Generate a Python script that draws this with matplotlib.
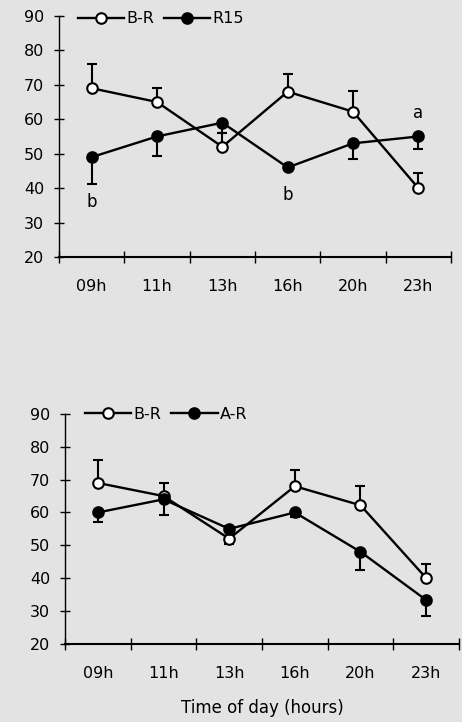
import matplotlib
matplotlib.use("Agg")
import matplotlib.pyplot as plt

plt.rcParams["font.family"] = ["DejaVu Sans"]

BG = "#e3e3e3"

hours = ["09h", "11h", "13h", "16h", "20h", "23h"]

# baseline (B-R), same in both panels
br_mean = [69, 65, 52, 68, 62.2, 40]
br_err_up = [7, 4, 4, 5, 6, 4.3]

# top panel: R15
r15_mean = [49, 55, 59, 46, 53, 55]
r15_err_down = [7.7, 5.7, 3, 0.5, 4.6, 3.6]

# bottom panel: A-R
ar_mean = [60, 64, 55, 60, 48, 33.3]
ar_err_down = [2.8, 4.8, 4.5, 1.5, 5.5, 4.9]

# letters over the top panel
top_letters = [("b", 0, 36.1), ("b", 3, 38.0), ("a", 5, 61.7)]

FS = 11.5


def draw_series(ax, x, mean, err, upward, filled):
    zero = [0] * len(err)
    yerr = [zero, err] if upward else [err, zero]
    ax.errorbar(x, mean, yerr=yerr, fmt="none", ecolor="black",
                elinewidth=1.5, capsize=3.4, capthick=1.5, zorder=2)
    (line,) = ax.plot(x, mean, color="black", lw=1.7, marker="o",
                      markersize=7.6, markeredgewidth=1.5,
                      markerfacecolor="black" if filled else "white",
                      markeredgecolor="black", zorder=3)
    return line


def style_axes(ax):
    ax.set_facecolor(BG)
    ax.set_xlim(-0.5, 5.5)
    ax.set_ylim(20, 90)
    ax.spines["top"].set_visible(False)
    ax.spines["right"].set_visible(False)
    ax.spines["left"].set_linewidth(1.0)
    ax.spines["bottom"].set_linewidth(1.5)
    ax.set_yticks(range(20, 91, 10))
    ax.tick_params(axis="y", direction="inout", length=7, width=1.0,
                   labelsize=FS, pad=7)
    ax.set_xticks([i - 0.5 for i in range(7)])
    ax.set_xticklabels([])
    ax.tick_params(axis="x", which="major", direction="inout", length=9,
                   width=1.0)
    ax.set_xticks(range(6), minor=True)
    ax.set_xticklabels(hours, minor=True)
    ax.tick_params(axis="x", which="minor", length=0, labelsize=FS, pad=16)


fig = plt.figure(figsize=(4.62, 7.22), dpi=100, facecolor=BG)
ax1 = fig.add_axes([0.1277, 0.644, 0.8485, 0.334])
ax2 = fig.add_axes([0.1407, 0.1085, 0.8528, 0.318])

x = list(range(6))

for ax, other, other_err, other_name, leg_x, leg_y in [
    (ax1, r15_mean, r15_err_down, "R15", 0.048, 0.988),
    (ax2, ar_mean, ar_err_down, "A-R", 0.051, 1.0),
]:
    style_axes(ax)
    h1 = draw_series(ax, x, br_mean, br_err_up, True, False)
    h2 = draw_series(ax, x, other, other_err, False, True)
    ax.legend([h1, h2], ["B-R", other_name], ncol=2, frameon=False,
              loc="center left", bbox_to_anchor=(leg_x, leg_y),
              borderaxespad=0, borderpad=0, handlelength=2.9,
              handletextpad=0.15, columnspacing=0.6, fontsize=FS,
              numpoints=1)

for txt, i, y in top_letters:
    ax1.text(i, y, txt, ha="center", va="center", fontsize=FS + 0.5)

ax2.set_xlabel("Time of day (hours)", fontsize=FS + 0.5, labelpad=13)

fig.savefig("out.png", dpi=100, facecolor=BG)
